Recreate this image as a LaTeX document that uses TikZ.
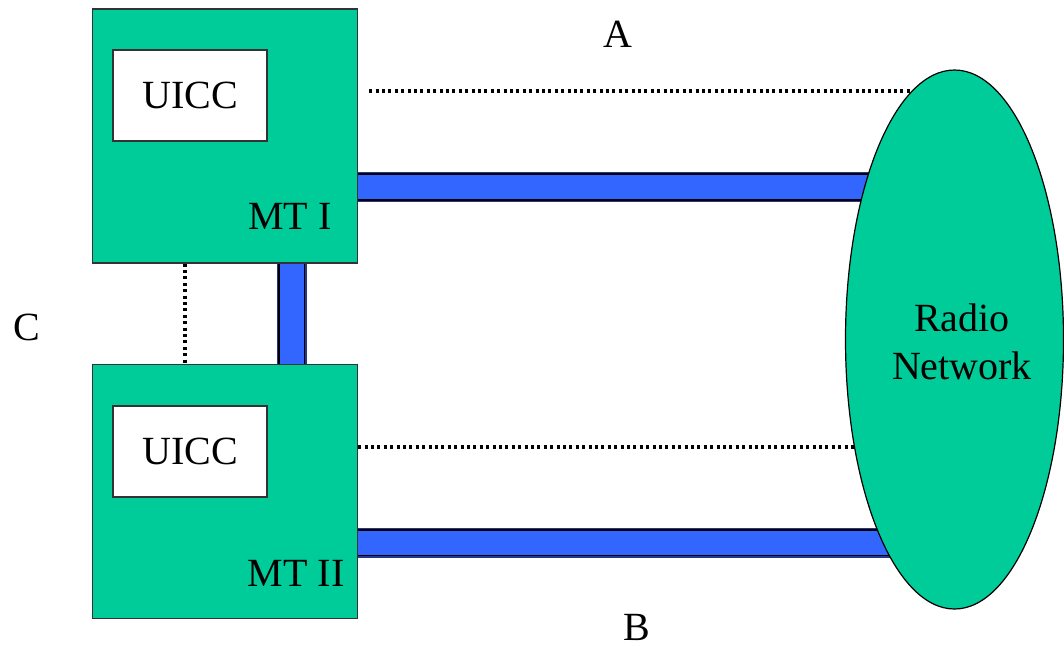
\documentclass[tikz,border=0pt]{standalone}
\usepackage{fontspec}
\setmainfont{Liberation Serif}
\usetikzlibrary{shapes.geometric,backgrounds}
\definecolor{mtgreen}{RGB}{0,204,153}
\definecolor{linkblue}{RGB}{51,102,255}
\definecolor{linkedge}{RGB}{35,55,140}

\tikzset{
	mtbox/.style={draw=black!80,line width=0.6pt,fill=mtgreen,inner sep=0pt,
		minimum width=132.5pt,minimum height=127pt},
	uiccbox/.style={draw=black!80,line width=0.6pt,fill=white,inner sep=0pt,
		minimum width=77pt,minimum height=45.5pt},
	link/.style={draw=black,line width=0.9pt,double=linkblue,double distance=12pt,
		preaction={draw=linkedge,line width=15pt}},
	signal/.style={draw=black,line width=1.6pt,dash pattern=on 1.5pt off 1.7pt},
	lbl/.style={font=\fontsize{20}{24}\selectfont,inner sep=0pt}
}

\begin{document}
\begin{tikzpicture}[x=0.5pt,y=-0.5pt]
	\useasboundingbox (0,0) rectangle (1064,645);
	\node[mtbox] (mt1) at (225,136) {};
	\node[mtbox] (mt2) at (225,491.5) {};
	\node[uiccbox,lbl] (uicc1) at (190,95.5) {UICC};
	\node[uiccbox,lbl] (uicc2) at (190,451.5) {UICC};
	\node[lbl] (mt1lbl) at (290,216) {MT I};
	\node[lbl] (mt2lbl) at (296,573) {MT II};
	\node[ellipse,draw=black,line width=0.6pt,fill=mtgreen,inner sep=0pt,
		minimum width=109pt,minimum height=269.5pt] (radio) at (954.5,339.5) {};
	\node[lbl,align=center] (radiolbl) at (962,342) {Radio\\Network};
	\node[lbl] (a) at (618,34) {A};
	\node[lbl] (b) at (637,627) {B};
	\node[lbl] (c) at (27,327) {C};
	\begin{pgfonlayer}{background}
		\draw[link] (mt1.east |- 0,187) -- (radio.center |- 0,187);
		\draw[link] (mt2.east |- 0,542.5) -- (radio.center |- 0,542.5);
		\draw[link] (mt1.south -| 291.5,0) -- (mt2.north -| 291.5,0);
		\draw[signal] ([xshift=5.5pt]mt1.east |- 0,91) -- (radio.center |- 0,91);
		\draw[signal] (mt2.east |- 0,447) -- (radio.center |- 0,447);
		\draw[signal] (mt1.south -| 185,0) -- (mt2.north -| 185,0);
	\end{pgfonlayer}
\end{tikzpicture}
\end{document}
